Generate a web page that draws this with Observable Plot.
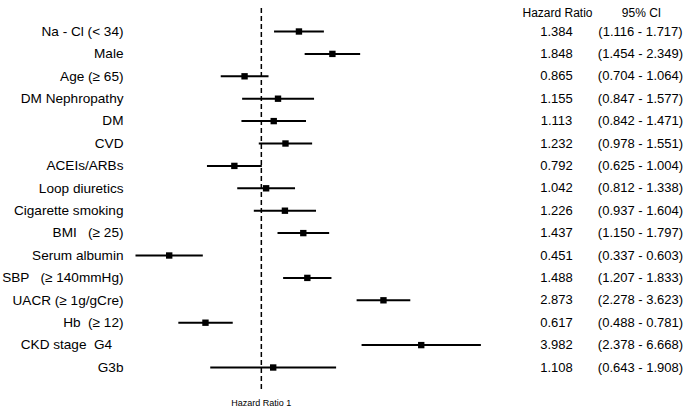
<!DOCTYPE html>
<html><head><meta charset="utf-8">
<script src="https://cdn.jsdelivr.net/npm/d3@7"></script>
<script src="https://cdn.jsdelivr.net/npm/@observablehq/plot@0.6"></script>
<style>
body{margin:0;background:#fff;}
svg{font-family:"Liberation Sans",Arial,sans-serif;overflow:visible;}
svg text{white-space:pre;}
</style></head>
<body><div id="chart"></div>
<script>
const labels = ["Na - Cl (< 34)", "Male", "Age (≥ 65)", "DM Nephropathy", "DM", "CVD", "ACEIs/ARBs",
  "Loop diuretics", "Cigarette smoking", "BMI   (≥ 25)", "Serum albumin",
  "SBP   (≥ 140mmHg)", "UACR (≥ 1g/gCre)", "Hb  (≥ 12)",
  "CKD stage  G4   ", "G3b"];
const hr = [1.384, 1.848, 0.865, 1.155, 1.113, 1.232, 0.792, 1.042, 1.226, 1.437, 0.451, 1.488, 2.873, 0.617, 3.982, 1.108];
const lo = [1.116, 1.454, 0.704, 0.847, 0.842, 0.978, 0.625, 0.812, 0.937, 1.150, 0.337, 1.207, 2.278, 0.488, 2.378, 0.643];
const hi = [1.717, 2.349, 1.064, 1.577, 1.471, 1.551, 1.004, 1.338, 1.604, 1.797, 0.603, 1.833, 3.623, 0.781, 6.668, 1.908];
const headers = ["Hazard Ratio", "95% CI"];
const refLabel = "Hazard Ratio 1";

const f3 = d3.format(".3f");
const rows = labels.map((l, i) => ({label: l, hr: hr[i], lo: lo[i], hi: hi[i],
  hrText: f3(hr[i]), ciText: `(${f3(lo[i])} - ${f3(hi[i])})`}));

const chart = Plot.plot({
  width: 685, height: 412,
  marginLeft: 129, marginRight: 199, marginTop: 31, marginBottom: 45,
  x: {type: "log", domain: [0.32, 7], axis: null},
  y: {type: "point", domain: labels, padding: 0, round: false, axis: null},
  marks: [
    Plot.ruleX([1], {stroke: "#000", strokeWidth: 1.5, strokeDasharray: "5,3", insetTop: -23, insetBottom: -23}),
    Plot.link(rows, {x1: "lo", x2: "hi", y1: "label", y2: "label", stroke: "#000", strokeWidth: 2}),
    Plot.dot(rows, {x: "hr", y: "label", symbol: "square", r: 3.6, fill: "#000", stroke: null}),
    Plot.text(rows, {y: "label", text: "label", frameAnchor: "left", dx: -6, textAnchor: "end", fontSize: 13.6, fill: "#000"}),
    Plot.text(rows, {y: "label", text: "hrText", frameAnchor: "right", dx: 70, textAnchor: "middle", fontSize: 13, fill: "#000"}),
    Plot.text(rows, {y: "label", text: "ciText", frameAnchor: "right", dx: 154, textAnchor: "middle", fontSize: 13, fill: "#000"}),
    Plot.text([headers[0]], {text: d => d, frameAnchor: "top-right", dx: 71, dy: -23, textAnchor: "middle", fontSize: 12, fill: "#000"}),
    Plot.text([headers[1]], {text: d => d, frameAnchor: "top-right", dx: 155, dy: -23, textAnchor: "middle", fontSize: 12, fill: "#000"}),
    Plot.text([refLabel], {x: [1], text: d => d, frameAnchor: "bottom", dy: 38, fontSize: 9, fill: "#000"})
  ]
});
document.getElementById("chart").appendChild(chart);
</script></body></html>
